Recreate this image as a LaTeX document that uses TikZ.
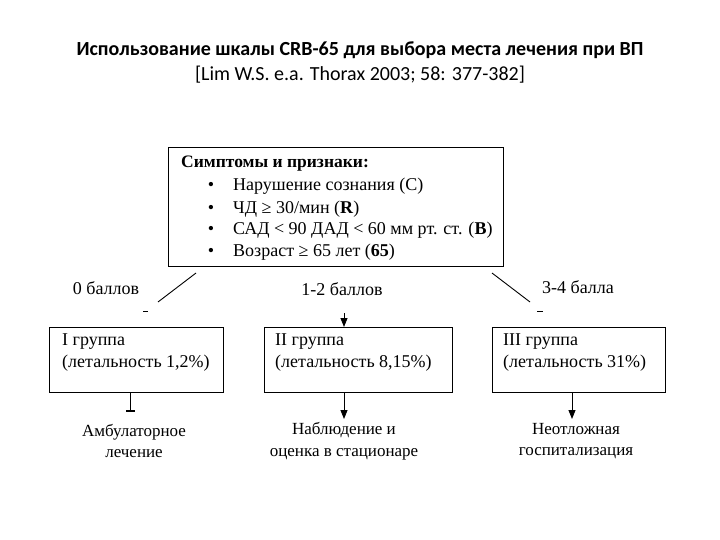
\documentclass[tikz,border=0pt]{standalone}
\usepackage{fontspec}
\setmainfont{Liberation Serif}
\newfontfamily\titlefont{Carlito}
\usetikzlibrary{arrows.meta}
\begin{document}
\begin{tikzpicture}[x=1pt,y=-1pt,
  box/.style={draw, line width=0.9pt, inner sep=0pt, anchor=north west},
  txt/.style={font=\fontsize{18}{21}\selectfont, inner sep=0pt},
  gtxt/.style={txt, anchor=west},
  otxt/.style={inner sep=0pt, align=center, font=\fontsize{17}{21.5}\selectfont},
  arr/.style={line width=0.9pt, -{Triangle[width=7pt,length=9pt]}},
  ln/.style={line width=0.9pt}]
\useasboundingbox (0,0) rectangle (720,540);
\node[inner sep=0pt, font=\titlefont\bfseries\fontsize{20}{24}\selectfont] (title) at (360,50) {Использование шкалы CRB-65 для выбора места лечения при ВП};
\node[inner sep=0pt, font=\titlefont\fontsize{20}{24}\selectfont] (ref) at (360,75) {[Lim W.S. e.a. Thorax 2003; 58: 377-382]};
% top box
\node[box, minimum width=335pt, minimum height=119pt] (sym) at (168,147) {};
\node[txt, anchor=west, font=\bfseries\fontsize{17.5}{21}\selectfont] (head) at (181,164) {Симптомы и признаки:};
\node[txt] (d1) at (211,186) {\textbullet};
\node[txt] (d2) at (211,209) {\textbullet};
\node[txt] (d3) at (211,230) {\textbullet};
\node[txt] (d4) at (211,252) {\textbullet};
\node[gtxt] (i1) at (233,186) {Нарушение сознания (C)};
\node[gtxt] (i2) at (233,209) {ЧД ≥ 30/мин (\textbf{R})};
\node[gtxt] (i3) at (233,230) {САД < 90 ДАД < 60 мм рт. ст. (\textbf{B})};
\node[gtxt] (i4) at (233,252) {Возраст ≥ 65 лет (\textbf{65})};
% branch labels
\node[txt] (s0) at (106,288) {0 баллов};
\node[txt] (s1) at (342,289) {1-2 баллов};
\node[txt] (s2) at (578,287) {3-4 балла};
% branch lines
\coordinate (la) at (196,273); \coordinate (lb) at (158,302);
\coordinate (lc) at (143,311); \coordinate (ld) at (148,311);
\coordinate (ra) at (492,273); \coordinate (rb) at (530,302);
\coordinate (rc) at (537,311); \coordinate (rd) at (543,311);
\draw[ln] (la) -- (lb);
\draw[ln] (lc) -- (ld);
\draw[ln] (ra) -- (rb);
\draw[ln] (rc) -- (rd);
% group boxes
\node[box, minimum width=174pt, minimum height=65pt] (g1) at (49,327) {};
\node[box, minimum width=188pt, minimum height=65pt] (g2) at (264,327) {};
\node[box, minimum width=173pt, minimum height=65pt] (g3) at (492,327) {};
\node[gtxt] (t1a) at (62,342) {I группа};
\node[gtxt] (t1b) at (62,363) {(летальность 1,2\%)};
\node[gtxt] (t2a) at (275,342) {II группа};
\node[gtxt] (t2b) at (275,363) {(летальность 8,15\%)};
\node[gtxt] (t3a) at (503,342) {III группа};
\node[gtxt] (t3b) at (503,363) {(летальность 31\%)};
% middle arrow in
\coordinate (m1) at (344,313);
\draw[arr] (m1) -- (m1 |- g2.north);
% outcomes
\node[otxt] (o1) at (134,441) {Амбулаторное\\лечение};
\node[otxt] (o2) at (344,441) {Наблюдение и\\оценка в стационаре};
\node[otxt] (o3) at (576,441) {Неотложная\\госпитализация};
\coordinate (p1) at (130,392); \coordinate (q1) at (130,412);
\coordinate (p2) at (344,392); \coordinate (q2) at (344,419);
\coordinate (p3) at (572,392); \coordinate (q3) at (572,419);
\draw[ln, -{Bar[width=9pt, line width=2pt]}] (p1) -- (q1);
\draw[arr] (p2) -- (q2);
\draw[arr] (p3) -- (q3);
\end{tikzpicture}
\end{document}
